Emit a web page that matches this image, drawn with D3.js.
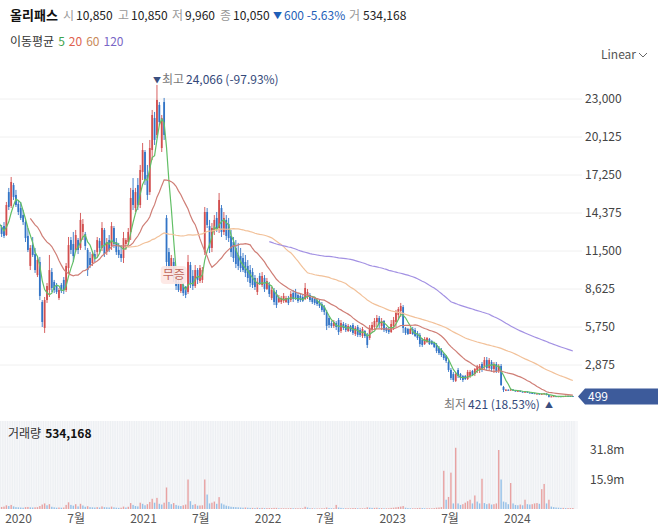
<!DOCTYPE html>
<html>
<head>
<meta charset="utf-8">
<script src="https://cdn.jsdelivr.net/npm/d3@7"></script>
<style>
  body { margin: 0; background: #fff; }
  svg text { font-family: "Noto Sans CJK KR", "Noto Sans", sans-serif; }
</style>
</head>
<body>
<svg id="chart" width="658" height="526"></svg>
<script>
// weekly candles, first one is the listing week (2019-11-04)
const firstWeek = new Date(2019, 10, 4);

const opens = [15000,16000,15000,14200,14000,13600,12800,13320,
  13390,12710,15960,14910,16490,15740,15060,14750,14220,13690,
  12640,10370,11950,11270,9680,10670,7640,5680,7790,8550,
  9910,9160,8930,7940,8930,9310,8550,10210,12330,12030,
  11580,12330,11730,12940,12790,11580,10970,10590,11270,11420,
  12260,11730,13090,11420,12330,11880,13240,12180,11580,11270,
  10970,12030,12180,12940,16120,14750,16490,14980,17480,18990,
  17250,15960,19140,21560,20280,22550,19290,22770,14000,11420,
  10060,10670,9610,9160,8470,8930,8780,8400,10440,9610,
  8850,10060,9230,9310,11420,14450,13390,11730,13090,14000,
  13240,14750,12940,13850,13540,12640,12180,11730,11200,11120,
  10970,10670,10370,10060,9910,9460,8400,9610,8930,9460,
  8630,8930,7940,8470,8250,7640,7640,7720,7640,7940,
  7790,8320,8400,8170,8100,8020,7870,8020,8170,7940,
  7870,7790,7640,7490,7260,6890,6430,6050,5830,6050,
  6280,5450,5980,5900,5450,5830,5900,5220,5750,5520,
  5070,5450,5150,4920,5520,5750,6130,6430,5830,6200,
  5680,5600,5370,5830,6130,6660,6960,7260,5680,5600,
  5220,5600,5520,5300,5150,4770,4460,4620,4840,4690,
  4540,4390,4160,4010,3710,3560,3100,2500,2190,1670,
  2500,2190,2040,2040,1820,2040,2420,2190,2500,2570,
  2950,2800,3250,2650,3100,2570,2950,2420,2800,1210,
  980,1000,950,1020,940,900,920,860,830,850,
  790,760,740,700,710,660,690,720,600,470,
  500,520,500,510,490,520,540,530,529];

const highs = [17500,16500,15500,14800,14500,13900,13500,13470,
  13690,15210,16270,17100,16650,16120,15360,15210,14600,13850,
  13240,11950,12560,11730,11050,11050,7790,8020,9080,11200,
  10210,9310,9080,8700,9080,9530,10590,12560,12560,12940,
  13090,12480,14380,13920,12940,11730,11420,11500,11580,12560,
  12480,13690,13240,12480,12710,13690,13390,12480,12110,11950,
  12940,12480,13240,16270,17020,16270,17020,18010,19670,19140,
  18010,19900,22170,22020,24066,22770,21790,23080,14220,11730,
  11200,10970,9760,9460,9310,9080,8850,11200,10670,10060,
  10440,10210,10440,10290,14830,14750,13850,13620,14220,14450,
  15890,14980,14450,14220,14000,13090,12560,12330,12110,11730,
  11350,11200,10820,10440,10210,9680,9460,9840,9910,9680,
  9460,9160,8780,8700,8550,8170,8100,8320,8100,8100,
  8470,8550,8630,8320,8250,8170,9080,8630,8320,8100,
  8020,7940,7790,7640,7410,7040,6580,6200,6280,6200,
  6430,6280,6130,6050,5980,5900,6050,5830,5900,5680,
  5750,5520,5300,5900,6130,6430,6660,6580,6430,6280,
  5750,5750,6280,6510,7040,7260,7570,7410,5750,5680,
  5680,5750,5680,5450,5300,4920,4990,4990,4920,4770,
  4620,4540,4310,4160,3780,3630,3250,2650,2350,2350,
  2650,2270,2120,2120,2500,2500,2500,2650,2880,2950,
  3100,3480,3480,3400,3250,3100,3100,2950,2950,1290,
  1060,1040,1080,1040,960,960,940,880,900,870,
  810,780,760,740,720,730,760,730,620,520,
  540,530,530,520,530,560,550,545,535];

const lows = [14000,14500,13800,13500,13200,12600,12300,12560,
  12480,12640,14600,14750,15360,14830,14220,13850,13470,12180,
  11420,10060,11050,9840,9530,7790,5750,5300,7570,8020,
  8400,8320,8250,7790,8320,8250,8400,9760,11270,10670,
  11420,11270,11580,12330,11580,9610,10210,10370,10670,11050,
  11420,11500,11050,11200,11420,11580,11730,11200,10970,10670,
  10590,11580,11950,12330,14600,14450,14600,14750,16870,16490,
  15360,15740,18390,19520,20050,21030,18990,19900,10060,9910,
  9680,9160,8550,8400,8320,8100,7940,8250,8700,8550,
  8700,9000,9080,9080,11200,13240,11350,11420,12710,12940,
  12860,12560,12710,12330,12180,11050,10670,10210,10060,9910,
  9910,9530,9160,8780,8700,8550,8170,8930,8780,8400,
  8550,8020,7790,7410,7190,7570,7490,7570,7570,7410,
  7640,7640,7790,7570,7640,7640,7790,7870,7640,7490,
  7410,7340,7190,6890,6660,5520,5680,5680,5680,5520,
  5150,5300,5520,5370,5370,5370,5150,5070,4990,4990,
  4920,4920,4160,4770,5300,5520,5750,5680,5520,5370,
  5300,5220,5300,5520,5750,6280,6510,5300,5150,5150,
  5220,5150,4990,4770,4240,4240,4390,4540,4390,4390,
  4160,3780,3630,3480,3250,3030,2350,1740,1590,1590,
  1890,1740,1590,1740,1740,1890,2040,2040,2270,2270,
  2350,2500,2500,2500,2350,2270,2270,2270,1290,830,
  900,920,930,910,870,880,840,800,810,770,
  740,720,680,680,640,650,670,580,421,450,
  480,480,490,470,480,510,510,515,490];

const closes = [16000,15000,14200,14000,13600,12800,13300,12790,
  12640,14980,14830,16720,15590,14980,14450,14000,13690,12480,
  11580,11730,11200,10060,10820,8100,6130,7790,8850,10060,
  8700,8550,8400,8550,8470,8550,10370,11950,11580,11120,
  12710,11580,13850,13540,11880,10060,10440,11270,10900,12330,
  11730,13240,11270,12180,11580,13390,12030,11420,11200,10970,
  12480,12330,12940,15510,14980,15960,14980,17630,19140,16870,
  15740,19290,21790,19900,22930,21260,21560,20280,10670,10210,
  10970,9460,8850,8550,9000,8320,8170,10670,9080,8850,
  10060,9310,10210,10060,14450,13470,11730,13240,13850,13240,
  15360,12940,14000,12640,12480,11420,10970,10520,10370,10210,
  10060,9840,9460,9080,8930,8780,9160,9080,9610,8630,
  9230,8250,8550,7640,7410,7940,7940,8100,7940,7570,
  8250,7870,7940,7720,7790,7720,8700,8400,7790,7640,
  7570,7490,7340,7040,6890,5830,5900,5830,6130,5750,
  5370,6050,5680,5520,5830,5450,5300,5680,5150,5150,
  5600,5070,4390,5680,5900,6200,6430,5980,6200,5520,
  5450,5370,5980,6280,6810,7110,7340,5680,5300,5220,
  5600,5220,5070,4920,4460,4390,4840,4920,4460,4460,
  4240,3930,3780,3630,3400,3180,2500,1890,1740,2190,
  2040,1890,1740,1820,2350,2350,2120,2570,2800,2800,
  2500,3250,2650,3250,2570,2950,2420,2800,1360,980,
  1000,950,1020,940,900,920,860,830,850,790,
  760,740,700,710,660,690,720,600,470,500,
  520,500,510,490,520,540,530,529,499];

// weekly volume, millions of shares
const volumes = [8.0,3.5,2.0,1.5,1.2,1.0,1.0,1.1,
  1.3,2.0,1.6,2.2,1.4,1.0,0.9,0.8,0.7,1.0,
  1.1,0.9,0.8,0.9,1.0,1.6,2.4,3.0,2.0,2.6,
  1.2,0.9,0.7,0.8,0.7,0.8,2.2,3.6,2.2,1.8,
  2.6,1.4,2.8,1.9,1.2,1.5,1.0,0.9,0.8,1.0,
  0.8,1.4,1.0,0.9,0.8,1.3,0.9,0.7,0.6,0.7,
  1.3,0.8,1.2,3.2,2.2,1.6,1.4,3.4,2.8,2.0,
  2.6,3.8,5.5,3.4,6.0,2.8,2.4,3.4,11.6,3.8,
  2.6,3.2,2.2,1.8,1.6,2.0,2.4,15.9,4.2,2.2,
  2.6,1.8,1.9,2.0,15.9,7.8,3.0,3.4,4.0,2.8,
  6.4,3.0,2.4,1.8,1.5,1.2,1.1,1.0,0.9,0.8,
  0.7,0.8,0.7,0.6,0.6,0.5,0.7,0.5,0.6,0.5,
  0.5,0.5,0.5,0.6,0.6,0.4,0.4,0.4,0.4,0.4,
  0.5,0.4,0.4,0.4,0.4,0.4,1.2,0.8,0.4,0.4,
  0.3,0.3,0.3,0.4,0.4,0.8,0.5,0.4,0.4,2.2,
  0.8,0.6,0.4,0.4,0.4,0.4,0.5,0.5,0.4,0.4,
  0.4,0.4,0.9,0.7,0.6,0.6,0.7,0.5,0.5,0.4,
  0.4,0.4,0.6,0.7,0.9,1.1,1.3,1.6,0.7,0.5,
  0.4,0.4,0.4,0.5,0.6,0.5,0.4,0.4,0.4,0.4,
  0.5,0.7,0.8,1.0,20.6,5.0,6.5,19.6,3.0,33.0,
  3.0,2.2,2.6,3.4,4.2,5.0,3.0,7.3,4.0,3.0,
  16.3,3.2,2.6,3.0,2.4,2.6,3.0,31.8,15.9,4.0,
  3.6,2.6,14.0,3.0,2.2,2.0,2.4,2.0,5.0,2.6,
  2.4,2.6,3.0,3.2,2.8,10.7,13.5,3.0,5.0,1.3,
  1.0,0.8,0.7,0.6,0.6,0.5,0.5,0.5,0.534168];

const priceTicks = [2875, 5750, 8625, 11500, 14375, 17250, 20125, 23000];
const volumeTicks = [15.9, 31.8];
const dateTicks = [new Date(2020,0,1), new Date(2020,6,1), new Date(2021,0,1), new Date(2021,6,1),
  new Date(2022,0,1), new Date(2022,6,1), new Date(2023,0,1), new Date(2023,6,1), new Date(2024,0,1)];
const dateLabels = ["2020", "7월", "2021", "7월", "2022", "7월", "2023", "7월", "2024"];
const maPeriods = [5, 20, 60, 120];
const maColors = ["#62bf66", "#cf7e76", "#f2c199", "#a391e3"];
const legendColors = ["#3fa34d", "#e0614f", "#c98a5a", "#7a66c6"];
const quoteLabels = ["시", "고", "저", "종"];
const quoteValues = ["10,850", "10,850", "9,960", "10,050"];
const eventWeek = new Date(2021, 4, 10);   // 무증 marker

const W = 658, H = 526, plotRight = 578;
const up = "#d24f4f", down = "#3274c6";
const svg = d3.select("#chart");

const dates = opens.map((_, i) => d3.timeMonday.offset(firstWeek, i));
const rows = dates.map((d, i) => ({date: d, o: opens[i], h: highs[i], l: lows[i], c: closes[i], v: volumes[i],
  vUp: i === 0 || volumes[i] >= volumes[i - 1]}));
const isUp = d => d.c >= d.o;

const x = d3.scaleTime()
  .domain([new Date(2019, 11, 30), new Date(2023, 11, 25)])
  .range([4, 4 + 208 * 2.39]);
const y = d3.scaleLinear().domain([0, 23000]).range([403, 99]);
const yVol = d3.scaleLinear().domain([0, 31.8]).range([509, 450]);

svg.append("rect").attr("width", W).attr("height", H).attr("fill", "#fff");
svg.append("defs").append("clipPath").attr("id", "plot")
  .append("rect").attr("x", 0).attr("y", 0).attr("width", plotRight).attr("height", H);

// grid
svg.append("g").selectAll("line").data(priceTicks).join("line")
  .attr("x1", 0).attr("x2", plotRight + 4)
  .attr("y1", d => y(d)).attr("y2", d => y(d))
  .attr("stroke", "#f0f0f0");

// price axis
const yAxis = svg.append("g").attr("transform", "translate(585,0)")
  .call(d3.axisRight(y).tickValues(priceTicks).tickFormat(d3.format(",")).tickSize(0).tickPadding(0));
yAxis.select(".domain").remove();
yAxis.selectAll("text").attr("font-size", 12).attr("fill", "#444");

// volume panel
svg.append("rect").attr("x", 0).attr("y", 421).attr("width", plotRight).attr("height", 88).attr("fill", "#f6f7f9");
svg.append("g").attr("clip-path", "url(#plot)").selectAll("line").data(rows).join("line")
  .attr("x1", d => x(d.date) + 1.2).attr("x2", d => x(d.date) + 1.2)
  .attr("y1", 421).attr("y2", 509)
  .attr("stroke", "#eaecf0").attr("stroke-width", 0.8);

svg.append("g").attr("clip-path", "url(#plot)").selectAll("rect").data(rows).join("rect")
  .attr("x", d => x(d.date) - 0.7).attr("width", 1.4)
  .attr("y", d => yVol(d.v)).attr("height", d => 509 - yVol(d.v))
  .attr("fill", d => d.vUp ? "#e8a2a2" : "#95c0e8");

const vAxis = svg.append("g").attr("transform", "translate(590,0)")
  .call(d3.axisRight(yVol).tickValues(volumeTicks).tickFormat(d => d.toFixed(1) + "m").tickSize(0).tickPadding(0));
vAxis.select(".domain").remove();
vAxis.selectAll("text").attr("font-size", 12).attr("fill", "#444");

const fmt = d3.format(",");
const lastVolume = fmt(Math.round(volumes[volumes.length - 1] * 1e6));
const volTitle = svg.append("text").attr("x", 8).attr("y", 438).attr("font-size", 12);
volTitle.append("tspan").attr("fill", "#333").text("거래량");
volTitle.append("tspan").attr("dx", 4).attr("fill", "#111").attr("font-weight", "bold").text(lastVolume);

// date axis
const xAxis = svg.append("g").attr("transform", "translate(0,511)")
  .call(d3.axisBottom(x).tickValues(dateTicks).tickFormat((d, i) => dateLabels[i]).tickSize(0).tickPadding(3));
xAxis.select(".domain").remove();
xAxis.selectAll("text").attr("font-size", 12).attr("fill", "#555").attr("text-anchor", "start");

// candles
const cg = svg.append("g").attr("clip-path", "url(#plot)");
cg.selectAll("line").data(rows).join("line")
  .attr("x1", d => x(d.date)).attr("x2", d => x(d.date))
  .attr("y1", d => y(d.h)).attr("y2", d => y(d.l))
  .attr("stroke", d => isUp(d) ? up : down).attr("stroke-width", 0.9);
cg.selectAll("rect").data(rows).join("rect")
  .attr("x", d => x(d.date) - 0.9).attr("width", 1.8)
  .attr("y", d => y(Math.max(d.o, d.c)))
  .attr("height", d => Math.max(1, Math.abs(y(d.o) - y(d.c))))
  .attr("fill", d => isUp(d) ? up : down);

// moving averages
const line = d3.line().x(d => x(d.date)).y(d => y(d.v));
maPeriods.forEach((p, k) => {
  const pts = [];
  for (let i = p - 1; i < closes.length; i++) {
    pts.push({date: dates[i], v: d3.mean(closes.slice(i - p + 1, i + 1))});
  }
  cg.append("path").datum(pts).attr("d", line)
    .attr("fill", "none").attr("stroke", maColors[k]).attr("stroke-width", 1.2);
});

// header
const head = svg.append("g").attr("font-size", 12);
head.append("text").attr("x", 10).attr("y", 20).attr("font-size", 13).attr("font-weight", "bold").attr("fill", "#111").text("올리패스");
const qx = [63, 118, 172, 220];
quoteLabels.forEach((t, i) => {
  head.append("text").attr("x", qx[i]).attr("y", 20).attr("fill", "#999").text(t);
  head.append("text").attr("x", qx[i] + 13).attr("y", 20).attr("fill", "#222").text(quoteValues[i]);
});
head.append("text").attr("x", 273).attr("y", 19).attr("font-size", 9).attr("fill", "#1f5fb8").text("▼");
head.append("text").attr("x", 284).attr("y", 20).attr("fill", "#1f5fb8").text("600 -5.63%");
head.append("text").attr("x", 349).attr("y", 20).attr("fill", "#999").text("거");
head.append("text").attr("x", 363).attr("y", 20).attr("fill", "#222").text(lastVolume);

const legend = svg.append("text").attr("x", 10).attr("y", 46).attr("font-size", 12);
legend.append("tspan").attr("fill", "#333").text("이동평균");
maPeriods.forEach((p, k) => legend.append("tspan").attr("dx", 4).attr("fill", legendColors[k]).text(p));

svg.append("text").attr("x", 601).attr("y", 59).attr("font-size", 12).attr("fill", "#555").text("Linear");
svg.append("polyline").attr("points", "639,53 643,57 647,53").attr("fill", "none").attr("stroke", "#666").attr("stroke-width", 1);

// high / low annotations
const last = closes[closes.length - 1];
const pct = v => (v * 100).toFixed(2) + "%";
const hiIdx = d3.maxIndex(highs), loIdx = d3.minIndex(lows);
const hiX = x(dates[hiIdx]), loX = x(dates[loIdx]);
svg.append("text").attr("x", hiX).attr("y", 83).attr("text-anchor", "middle").attr("font-size", 8).attr("fill", "#3a4f80").text("▼");
const hiT = svg.append("text").attr("x", hiX + 5).attr("y", 84).attr("font-size", 12);
hiT.append("tspan").attr("fill", "#777").text("최고");
hiT.append("tspan").attr("dx", 2).attr("fill", "#34497a").text(`${fmt(highs[hiIdx])} (${pct(last / highs[hiIdx] - 1)})`);

const loT = svg.append("text").attr("x", loX - 9).attr("y", 409).attr("font-size", 12).attr("text-anchor", "end");
loT.append("tspan").attr("fill", "#777").text("최저");
loT.append("tspan").attr("dx", 2).attr("fill", "#34497a").text(`${fmt(lows[loIdx])} (${pct(last / lows[loIdx] - 1)})`);
svg.append("text").attr("x", loX).attr("y", 408).attr("text-anchor", "middle").attr("font-size", 8).attr("fill", "#3a4f80").text("▲");

// 무증 marker
const evIdx = dates.findIndex(d => +d === +eventWeek);
const ex = x(dates[evIdx]), ey = y(lows[evIdx]) - 7;
svg.append("rect").attr("x", ex - 13).attr("y", ey - 9).attr("width", 26).attr("height", 18).attr("rx", 4)
  .attr("fill", "#fde7e3").attr("opacity", 0.9);
svg.append("text").attr("x", ex).attr("y", ey).attr("dy", "0.35em").attr("text-anchor", "middle")
  .attr("font-size", 12).attr("fill", "#c0675c").text("무증");

// last price tag
const ly = y(last);
svg.append("polygon")
  .attr("points", `${plotRight},${ly} ${plotRight + 7},${ly - 8} ${W},${ly - 8} ${W},${ly + 8} ${plotRight + 7},${ly + 8}`)
  .attr("fill", "#3d5b9b");
svg.append("text").attr("x", 588).attr("y", ly).attr("dy", "0.35em").attr("font-size", 12).attr("fill", "#fff").text(fmt(last));
</script>
</body>
</html>
